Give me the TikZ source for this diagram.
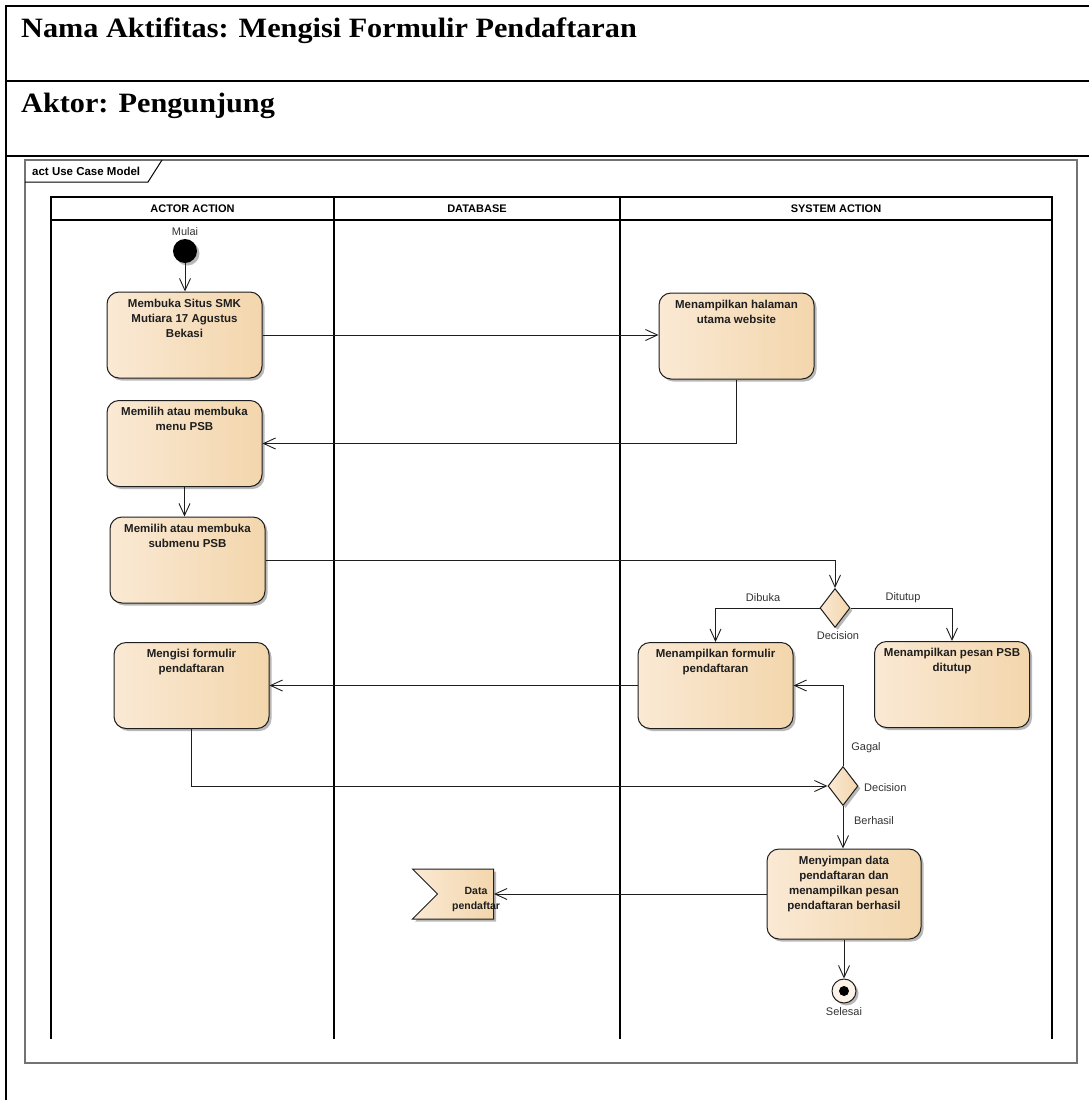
\documentclass[tikz,border=0pt]{standalone}
\usepackage{graphicx}
\usepackage{fontspec}
\setmainfont{Liberation Sans}
\newfontfamily\headserif{Liberation Serif}
\usetikzlibrary{arrows.meta,shapes.geometric,shapes.symbols,shadows}

\definecolor{boxL}{RGB}{250,233,212}
\definecolor{boxM}{RGB}{253,242,231}
\definecolor{boxR}{RGB}{243,214,172}
\definecolor{ink}{RGB}{30,30,30}

\begin{document}
\begin{tikzpicture}[x=1pt,y=-1pt,
  softshadow/.style={drop shadow={shadow xshift=2.5pt, shadow yshift=-2.5pt, fill=black, opacity=0.28}},
  actbox/.style={draw=ink, line width=1pt, rounded corners=12pt, minimum width=155pt,
    minimum height=86pt, inner sep=0pt, left color=boxL, middle color=boxM, right color=boxR, softshadow},
  acttext/.style={font=\fontsize{11.5}{15}\selectfont\bfseries, align=center, anchor=north,
    inner sep=0pt, text=ink},
  lbl/.style={font=\fontsize{11}{13}\selectfont, text=black!80, inner sep=0pt},
  lanehead/.style={font=\fontsize{11}{13}\selectfont\bfseries, inner sep=0pt},
  lane/.style={draw=black, line width=1.5pt},
  flow/.style={draw=ink, line width=0.9pt, -{Straight Barb[length=12pt,width=11pt,line width=0.9pt]}},
  decisionbox/.style={diamond, draw=ink, line width=1pt, minimum width=30pt, minimum height=39pt,
    inner sep=0pt, left color=boxL, middle color=boxM, right color=boxR, softshadow},
  titletext/.style={font=\headserif\fontsize{28}{32}\selectfont\bfseries, inner sep=0pt}
]
\useasboundingbox (0,0) rectangle (1089,1100);
\fill[white] (0,0) rectangle (1089,1100);

% form frame with the two heading rows
\draw[line width=1.4pt] (6,1100) -- (6,6) -- (1089,6);
\draw[line width=1.4pt] (6,81) -- (1089,81);
\draw[line width=1.4pt] (6,156) -- (1089,156);
\node[titletext, anchor=base west] (judul) at (21,37)
  {\scalebox{1.08}[1]{Nama Aktifitas: Mengisi Formulir Pendaftaran}};
\node[titletext, anchor=base west] (aktor) at (21,112)
  {\scalebox{1.08}[1]{Aktor: Pengunjung}};

% activity frame and its tag
\draw[draw=black!55, line width=2pt] (25,160) rectangle (1077,1063);
\draw[line width=1pt] (25,182) -- (148,182) -- (162,160);
\node[font=\fontsize{11.5}{13}\selectfont\bfseries, anchor=base west, inner sep=0pt] (frametag)
  at (32,175) {act Use Case Model};

% swimlanes
\draw[lane] (51,1039) -- (51,197) -- (1052,197) -- (1052,1039);
\draw[lane] (51,220) -- (1052,220);
\draw[lane] (334,197) -- (334,1039);
\draw[lane] (620,197) -- (620,1039);
\node[lanehead] (hActor) at (192.5,209) {ACTOR ACTION};
\node[lanehead] (hDb) at (477,209) {DATABASE};
\node[lanehead] (hSys) at (836,209) {SYSTEM ACTION};

% start and end
\node[circle, fill=black, minimum size=24pt, inner sep=0pt, softshadow] (start) at (185,251) {};
\node[lbl] (lMulai) at (185,232) {Mulai};
\node[circle, draw=ink, line width=1pt, fill=boxM, minimum size=24pt, inner sep=0pt, softshadow,
  path picture={\fill[black] (path picture bounding box.center) circle (5pt);}] (finish) at (844,991) {};
\node[lbl] (lSelesai) at (844,1012) {Selesai};

% actions
\node[actbox] (a1) at (184.5,335) {};
\node[acttext] (a1t) at ([yshift=-7pt]a1.north) {Membuka Situs SMK\\Mutiara 17 Agustus\\Bekasi};
\node[actbox] (a2) at (184.5,443.5) {};
\node[acttext] (a2t) at ([yshift=-7pt]a2.north) {Memilih atau membuka\\menu PSB};
\node[actbox] (a3) at (187.5,560) {};
\node[acttext] (a3t) at ([yshift=-7pt]a3.north) {Memilih atau membuka\\submenu PSB};
\node[actbox] (a4) at (191.5,685.5) {};
\node[acttext] (a4t) at ([yshift=-7pt]a4.north) {Mengisi formulir\\pendaftaran};

\node[actbox] (s1) at (736.5,336) {};
\node[acttext] (s1t) at ([yshift=-7pt]s1.north) {Menampilkan halaman\\utama website};
\node[actbox] (s2) at (715.5,685.5) {};
\node[acttext] (s2t) at ([yshift=-7pt]s2.north) {Menampilkan formulir\\pendaftaran};
\node[actbox] (s3) at (952,684.5) {};
\node[acttext] (s3t) at ([yshift=-7pt]s3.north) {Menampilkan pesan PSB\\ditutup};
\node[actbox, minimum width=154pt, minimum height=90pt] (s4) at (844,894) {};
\node[acttext] (s4t) at ([yshift=-7pt]s4.north)
  {Menyimpan data\\pendaftaran dan\\menampilkan pesan\\pendaftaran berhasil};

% decisions
\node[decisionbox] (d1) at (835,608) {};
\node[lbl] (lDec1) at (838,636) {Decision};
\node[decisionbox] (d2) at (843,786) {};
\node[lbl, anchor=west] (lDec2) at (864,788) {Decision};

% data store
\node[signal, signal from=west, signal to=nowhere, draw=ink, line width=1pt,
  minimum width=81pt, minimum height=50pt, inner sep=0pt,
  left color=boxL, middle color=boxM, right color=boxR, softshadow] (data) at (465.5,894) {};
\node[acttext, anchor=center, font=\fontsize{10.5}{15}\selectfont\bfseries] (datat) at (476,899)
  {Data\\pendaftar};

% flow
\draw[flow] (start) -- (start |- a1.north);
\draw[flow] (a1.east) -- (a1.east -| s1.west);
\draw[flow] (s1.south) |- (a2.east);
\draw[flow] (a2.south) -- (a2.south |- a3.north);
\draw[flow] (a3.east) -| (d1.north);
\draw[flow] (d1.west) -| (s2.north);
\draw[flow] (d1.east) -| (s3.north);
\node[lbl] (lDibuka) at (763,598) {Dibuka};
\node[lbl] (lDitutup) at (903,598) {Ditutup};
\draw[flow] (s2.west) -- (s2.west -| a4.east);
\draw[flow] (a4.south) |- (d2.west);
\draw[flow] (d2.north) |- (s2.east);
\node[lbl] (lGagal) at (866,748) {Gagal};
\draw[flow] (d2.south) -- (d2.south |- s4.north);
\node[lbl] (lBerhasil) at (874,821) {Berhasil};
\draw[flow] (s4.west) -- (s4.west -| data.east);
\draw[flow] (s4.south) -- (s4.south |- finish.north);
\end{tikzpicture}
\end{document}
